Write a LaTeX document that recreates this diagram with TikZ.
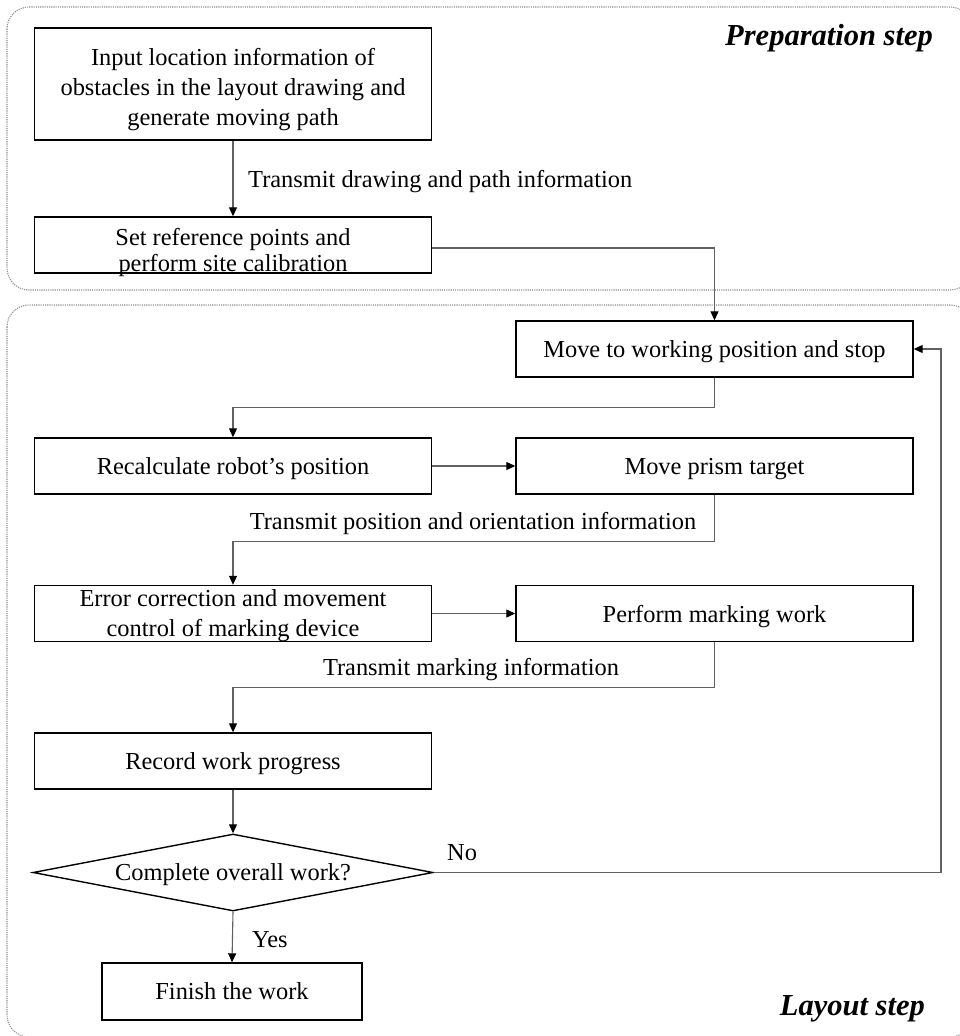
\documentclass[tikz,border=0pt]{standalone}
\usepackage{fontspec}
\setmainfont{Liberation Serif}
\usetikzlibrary{arrows.meta,shapes.geometric}
\newcommand{\lowertext}[2]{\raisebox{-#1}[\height][\depth]{\begin{tabular}{@{}c@{}}#2\end{tabular}}}
\begin{document}
\begin{tikzpicture}[x=1pt,y=-1pt,
  txt/.style={font=\fontsize{24.4}{30}\selectfont},
  boxbase/.style={txt,draw=black,line width=1.4pt,minimum width=397pt,minimum height=56pt,align=center,inner sep=0pt},
  box/.style={boxbase,text depth=0pt},
  conn/.style={draw=black!62,line width=1.1pt,-{Triangle[length=9pt,width=8pt,color=black]}},
  lab/.style={txt,inner sep=0pt},
  steptitle/.style={font=\fontsize{30.5}{36}\selectfont\bfseries\itshape,inner sep=0pt},
  region/.style={draw=black!45,line width=1.1pt,dash pattern=on 1.1pt off 1.1pt,rounded corners=22pt}]
\useasboundingbox (0,0) rectangle (959,1036);
% regions
\draw[region] (7,7) rectangle (972,290);
\draw[region] (7,305) rectangle (972,1037);
\node[steptitle,anchor=base east] (prep) at (933,45) {Preparation step};
\node[steptitle,anchor=base east] (lay) at (925,1015) {Layout step};
% boxes
\node[boxbase,minimum height=112pt] (input) at (233,84) {\lowertext{5pt}{Input location information of\\obstacles in the layout drawing and\\generate moving path}};
\node[boxbase,font=\fontsize{24.4}{26.5}\selectfont] (setref) at (233,245) {\lowertext{8pt}{Set reference points and\\perform site calibration}};
\node[box] (move) at (714.5,349) {Move to working position and stop};
\node[box] (recalc) at (233,466) {Recalculate robot’s position};
\node[box] (prism) at (714.5,466) {Move prism target};
\node[box] (err) at (233,613.5) {Error correction and movement\\control of marking device};
\node[box] (perform) at (714.5,613.5) {Perform marking work};
\node[box] (record) at (233,761) {Record work progress};
\node[txt,draw=black,line width=1.4pt,diamond,aspect=5.2,inner sep=0pt,minimum width=400pt,minimum height=77pt,text depth=0pt] (check) at (233,872.5) {Complete overall work?};
\node[box,minimum width=260pt,minimum height=57pt] (finish) at (232,991.5) {Finish the work};
\coordinate (fb) at (941,872.5);
% labels
\node[lab,anchor=west] (l1) at (248,182) {Transmit drawing and path information};
\node[lab] (l2) at (473,524) {Transmit position and orientation information};
\node[lab] (l3) at (471,670) {Transmit marking information};
\node[lab,anchor=west] (no) at (447,853) {No};
\node[lab,anchor=west] (yes) at (252,940) {Yes};
% connectors
\draw[conn] (input) -- (setref);
\draw[conn] ([yshift=-3pt]setref.east) -| (move.north);
\draw[conn] (move.south) -- ++(0,30) -| (recalc.north);
\draw[conn] (recalc) -- (prism);
\draw[conn] (prism.south) -- ++(0,47) -| (err.north);
\draw[conn] (err) -- (perform);
\draw[conn] (perform.south) -- ++(0,45) -| (record.north);
\draw[conn] (record) -- (check.north);
\draw[conn] (check.east) -- (fb) |- (move.east);
\draw[conn] (check.south) -- (finish.north);
\end{tikzpicture}
\end{document}
